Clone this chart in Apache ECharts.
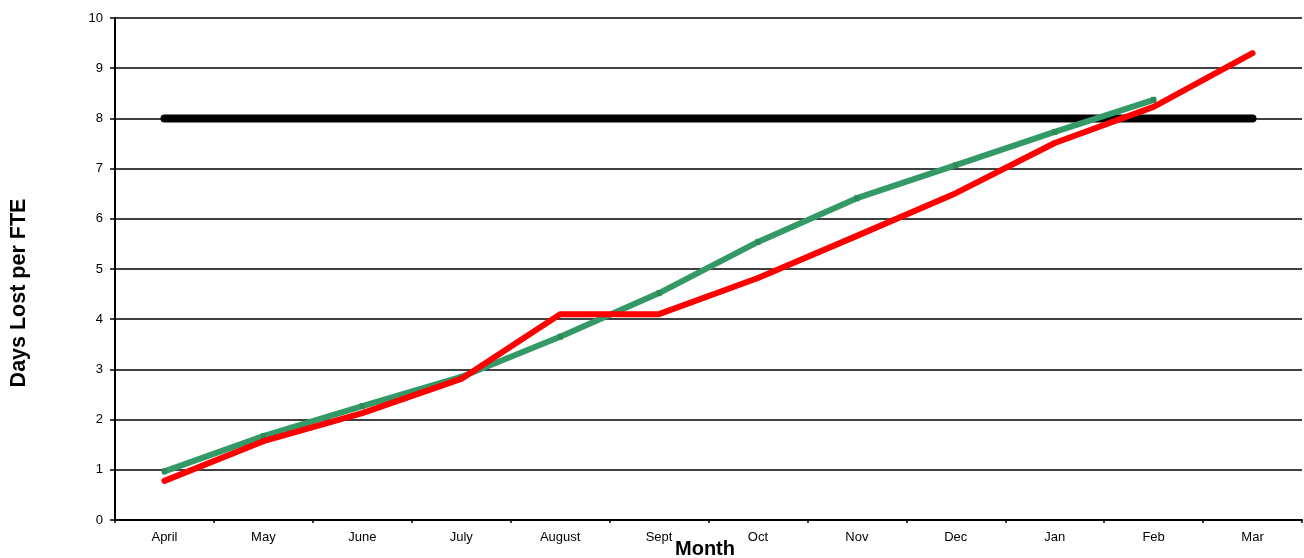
<!DOCTYPE html>
<html>
<head>
<meta charset="utf-8">
<script src="https://cdn.jsdelivr.net/npm/echarts@6/dist/echarts.min.js"></script>
<style>
  html, body { margin: 0; padding: 0; background: #ffffff; overflow: hidden; }
  #chart { width: 1304px; height: 558px; }
</style>
</head>
<body>
<div id="chart"></div>
<script>
// Sickness absence: cumulative days lost per FTE by month
const months = ['April', 'May', 'June', 'July', 'August', 'Sept', 'Oct', 'Nov', 'Dec', 'Jan', 'Feb', 'Mar'];
const targetValues = [8, 8, 8, 8, 8, 8, 8, 8, 8, 8, 8, 8];
const previousYear = [0.97, 1.67, 2.27, 2.85, 3.65, 4.52, 5.54, 6.41, 7.07, 7.73, 8.37, null];
const currentYear = [0.78, 1.57, 2.13, 2.81, 4.1, 4.1, 4.82, 5.66, 6.51, 7.51, 8.23, 9.3];
const yTicks = { min: 0, max: 10, interval: 1 };
const yTitle = 'Days Lost per FTE';
const xTitle = 'Month';

const chart = echarts.init(document.getElementById('chart'), null, { renderer: 'canvas' });
const font = 'Liberation Sans, Arial, sans-serif';

chart.setOption({
  animation: false,
  backgroundColor: '#ffffff',
  grid: { left: 115, right: 2, top: 18, bottom: 38, containLabel: false, outerBoundsMode: 'none' },
  graphic: [
    {
      // vertical axis title
      type: 'text',
      x: 19,
      y: 293,
      rotation: Math.PI / 2,
      style: {
        text: yTitle,
        fontFamily: font,
        fontSize: 21.5,
        fontWeight: 'bold',
        fill: '#000',
        align: 'center',
        verticalAlign: 'middle'
      }
    },
    {
      // horizontal axis title, tucked just under the month labels
      type: 'text',
      x: 705,
      y: 549,
      style: {
        text: xTitle,
        fontFamily: font,
        fontSize: 20,
        fontWeight: 'bold',
        fill: '#000',
        align: 'center',
        verticalAlign: 'middle'
      }
    }
  ],
  xAxis: {
    type: 'category',
    data: months,
    boundaryGap: true,
    axisLine: { lineStyle: { color: '#000', width: 2 } },
    axisTick: { show: true, length: 3, lineStyle: { color: '#000', width: 1.5 } },
    axisLabel: { fontFamily: font, fontSize: 13, color: '#000', margin: 11 },
    splitLine: { show: false }
  },
  yAxis: {
    type: 'value',
    min: yTicks.min,
    max: yTicks.max,
    interval: yTicks.interval,
    axisLine: { show: true, lineStyle: { color: '#000', width: 2 } },
    axisTick: { show: true, length: 5, lineStyle: { color: '#000', width: 1.5 } },
    axisLabel: { fontFamily: font, fontSize: 13, color: '#000', margin: 12 },
    splitLine: { show: true, lineStyle: { color: '#000', width: 1.5 } }
  },
  series: [
    {
      name: 'Target',
      type: 'line',
      data: targetValues,
      showSymbol: false,
      lineStyle: { color: '#000', width: 8, cap: 'round' },
      z: 3
    },
    {
      name: 'Previous year',
      type: 'line',
      data: previousYear,
      symbol: 'rect',
      symbolSize: [5, 6],
      itemStyle: { color: '#2f8a58' },
      lineStyle: { color: '#339966', width: 6, cap: 'round', join: 'round' },
      z: 4
    },
    {
      name: 'Current year',
      type: 'line',
      data: currentYear,
      showSymbol: false,
      lineStyle: { color: '#ff0000', width: 6, cap: 'round', join: 'round' },
      z: 5
    }
  ]
});
</script>
</body>
</html>
